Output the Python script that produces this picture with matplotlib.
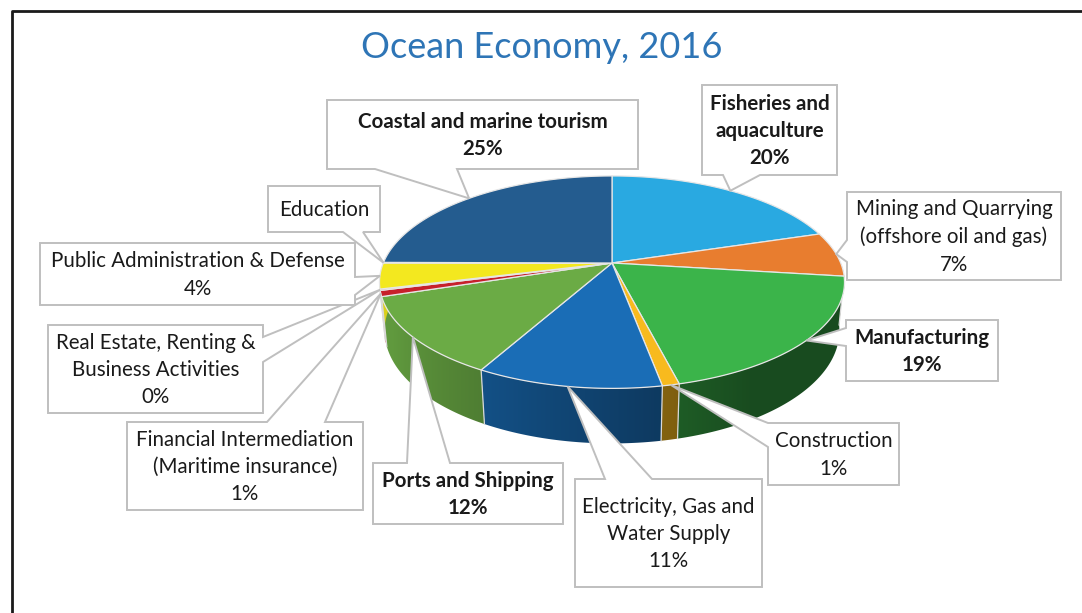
import numpy as np
import matplotlib.pyplot as plt
from matplotlib.patches import Polygon
from matplotlib.colors import to_rgb

# slices, clockwise from 12 o'clock
sectors = ['Fisheries and\naquaculture', 'Mining and Quarrying\n(offshore oil and gas)',
           'Manufacturing', 'Construction', 'Electricity, Gas and\nWater Supply',
           'Ports and Shipping', 'Financial Intermediation\n(Maritime insurance)',
           'Real Estate, Renting &\nBusiness Activities', 'Public Administration & Defense',
           'Education', 'Coastal and marine tourism']
shares = [20.2, 6.8, 19.1, 1.0, 10.9, 12.0, 0.9, 0.2, 3.9, 0.1, 24.9]
show_pct = [True, True, True, True, True, True, True, True, True, False, True]
bold = [True, False, True, False, False, True, False, False, False, False, True]
colors = ['#29A9E1', '#E87D2F', '#3BB44A', '#F8BA1E', '#1A6DB6',
          '#6BAB45', '#C7202B', '#B83A2E', '#F3E81F', '#2C78B8', '#245C8F']

# label boxes (pixels): x0, y0, x1, y1, side, base interval
boxes = [(702, 85, 837, 175, 'bottom', (723, 760)),
         (847, 192, 1061, 280, 'left', (240, 262)),
         (846, 320, 998, 381, 'left', (328, 346)),
         (768, 423, 899, 485, 'left', (423, 447)),
         (575, 479, 762, 587, 'top', (605, 652)),
         (373, 463, 563, 524, 'top', (407, 450)),
         (127, 422, 363, 510, 'top', (267, 325)),
         (48, 325, 263, 413, 'right', (337, 362)),
         (40, 243, 355, 305, 'right', (277, 295)),
         (268, 186, 380, 232, 'bottom', (343, 363)),
         (327, 100, 638, 169, 'bottom', (375, 457))]

# simple perspective camera for the disc
elev = np.radians(26.7)
cs, sn = np.cos(elev), np.sin(elev)
L = 4.95
h = 0.24
k = 1132
cx, cy = 612, 263


def proj(theta, z=0.0):
    x, y = np.cos(theta), np.sin(theta)
    depth = y * cs + L - z * sn
    up = y * sn + z * cs
    return cx + k * x / depth, cy - k * up / depth


fig = plt.figure(figsize=(10.82, 6.13), dpi=100)
ax = fig.add_axes([0, 0, 1, 1])

frac = np.array(shares) / sum(shares)
ends = np.pi / 2 - 2 * np.pi * np.cumsum(frac)
starts = np.concatenate([[np.pi / 2], ends[:-1]])

# shading across the front wall, darker towards the right
gx = np.linspace(370, 860, 400)
cosv = np.clip((gx - cx) / 234, -1, 1)
deg = 360 - np.degrees(np.arccos(cosv))
shade = np.clip(0.9 - 0.45 * (deg - 200) / 100, 0.42, 0.9)

# outer walls (front half only)
for a0, a1, col in zip(starts, ends, colors):
    ts = np.linspace(min(a0, a1), max(a0, a1), 200)
    ts = ts[np.sin(ts) < 0.01]
    if len(ts) < 2:
        continue
    top = [proj(t) for t in ts]
    bot = [proj(t, -h) for t in ts[::-1]]
    wall = Polygon(top + bot, closed=True, facecolor='none', edgecolor='none')
    ax.add_patch(wall)
    img = np.array(to_rgb(col))[None, None, :] * shade[None, :, None]
    im = ax.imshow(np.repeat(img, 2, axis=0), extent=(370, 860, 460, 250),
                   aspect='auto', zorder=2, interpolation='bilinear')
    im.set_clip_path(wall)

ax.set_xlim(0, 1082)
ax.set_ylim(613, 0)
ax.axis('off')

# seams between slices on the wall
for a in ends:
    if np.sin(a) < -0.05:
        x0, y0 = proj(a)
        x1, y1 = proj(a, -h)
        ax.plot([x0, x1], [y0, y1], color='#D9D9D9', lw=0.9, zorder=3)

# top faces
for a0, a1, col in zip(starts, ends, colors):
    ts = np.linspace(a0, a1, max(3, int(abs(a1 - a0) * 80)))
    pts = [(cx, cy)] + [proj(t) for t in ts]
    ax.add_patch(Polygon(pts, closed=True, facecolor=col, edgecolor='#E6E6E6',
                         lw=0.9, zorder=4))

# callout boxes with pointers
for i, (x0, y0, x1, y1, side, (b0, b1)) in enumerate(boxes):
    mid = (starts[i] + ends[i]) / 2
    tip = proj(mid)
    if side == 'bottom':
        pts = [(x0, y0), (x1, y0), (x1, y1), (b1, y1), tip, (b0, y1), (x0, y1)]
    elif side == 'top':
        pts = [(x0, y0), (b0, y0), tip, (b1, y0), (x1, y0), (x1, y1), (x0, y1)]
    elif side == 'left':
        pts = [(x0, y0), (x1, y0), (x1, y1), (x0, y1), (x0, b1), tip, (x0, b0)]
    else:
        pts = [(x0, y0), (x1, y0), (x1, b0), tip, (x1, b1), (x1, y1), (x0, y1)]
    ax.add_patch(Polygon(pts, closed=True, facecolor='white', edgecolor='#BFBFBF',
                         lw=1.4, zorder=6, joinstyle='miter'))
    txt = sectors[i]
    if show_pct[i]:
        txt += '\n%d%%' % round(shares[i])
    ax.text((x0 + x1) / 2, (y0 + y1) / 2 + 1, txt, ha='center', va='center',
            fontsize=14.8, family='Lato', fontweight='bold' if bold[i] else 'normal',
            color='#1A1A1A', linespacing=1.45, zorder=7)

ax.text(542, 47, 'Ocean Economy, 2016', ha='center', va='center', fontsize=26,
        family='Lato', color='#2E75B6')

# chart frame
ax.plot([12, 12, 1082], [613, 11, 11], color='#1A1A1A', lw=2, zorder=8)

fig.savefig('out.png', dpi=100)
